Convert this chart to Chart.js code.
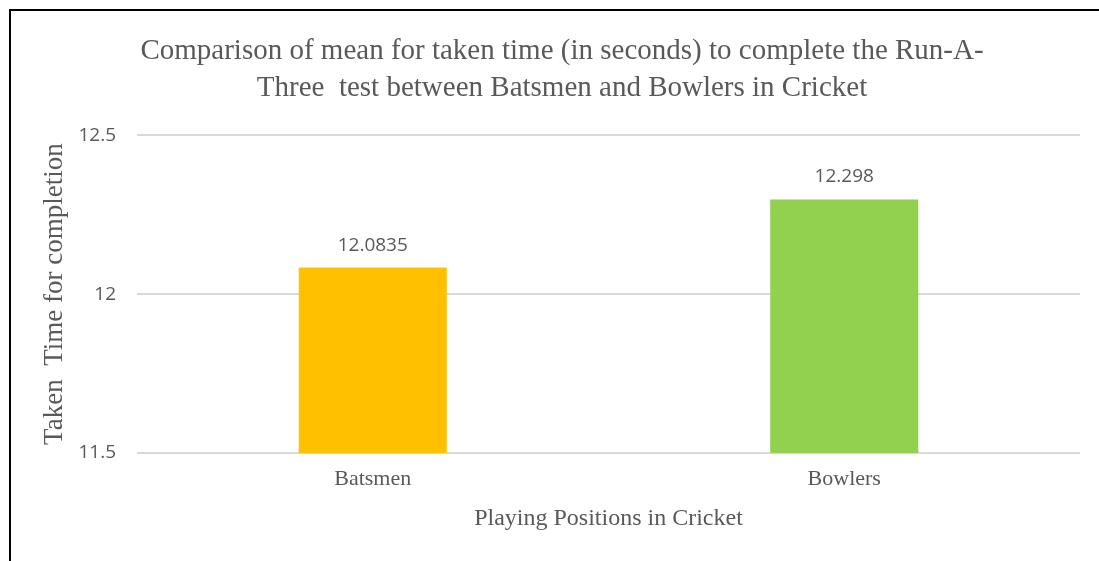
<!DOCTYPE html>
<html>
<head>
<meta charset="utf-8">
<script src="https://cdn.jsdelivr.net/npm/chart.js@4.4.1/dist/chart.umd.min.js"></script>
<style>
  html, body { margin: 0; padding: 0; background: #ffffff; }
  #wrap { position: absolute; left: 0; top: 0; width: 1099px; height: 561px; }
  #frame { position: absolute; left: 9px; top: 9px; right: 0; bottom: 0;
           border-left: 2px solid #000; border-top: 2px solid #000; pointer-events: none; }
  canvas { position: absolute; left: 0; top: 0; }
</style>
</head>
<body>
<div id="wrap">
  <canvas id="c" width="1099" height="561"></canvas>
  <div id="frame"></div>
</div>
<script>
const titleLines = ["Comparison of mean for taken time (in seconds) to complete the Run-A-",
                    "Three  test between Batsmen and Bowlers in Cricket"];
const categories = ["Batsmen", "Bowlers"];
const meanTimes = [12.0835, 12.298];
const barColors = ["#FFC000", "#92D050"];
const yTicks = [11.5, 12, 12.5];
const yTitle = "Taken  Time for completion";
const xTitle = "Playing Positions in Cricket";

const textGray = "#595959";
const serif = "'Liberation Serif', 'Times New Roman', serif";
const sans = "'Open Sans', 'Liberation Sans', sans-serif";

const valueLabels = {
  id: "valueLabels",
  afterDatasetsDraw(chart) {
    const ctx = chart.ctx;
    ctx.save();
    ctx.font = "19px " + sans;
    ctx.fillStyle = textGray;
    ctx.textAlign = "center";
    ctx.textBaseline = "alphabetic";
    chart.getDatasetMeta(0).data.forEach((bar, i) => {
      ctx.fillText(String(meanTimes[i]), bar.x, bar.y - 17);
    });
    ctx.restore();
  }
};

new Chart(document.getElementById("c"), {
  type: "bar",
  data: {
    labels: categories,
    datasets: [{
      data: meanTimes,
      backgroundColor: barColors,
      borderWidth: 0,
      categoryPercentage: 1,
      barPercentage: 0.314
    }]
  },
  options: {
    responsive: false,
    animation: false,
    events: [],
    layout: { padding: { left: 44, right: 19, top: 10, bottom: 0 } },
    plugins: {
      legend: { display: false },
      tooltip: { enabled: false },
      title: {
        display: true,
        text: titleLines,
        color: textGray,
        font: { family: serif, size: 29, weight: "normal", lineHeight: 1.28 },
        padding: { top: 23, bottom: 28 }
      }
    },
    scales: {
      x: {
        grid: { display: false, drawTicks: false },
        border: { display: false },
        ticks: { color: textGray, font: { family: serif, size: 22 }, padding: 13 },
        title: { display: true, text: xTitle, color: textGray,
                 font: { family: serif, size: 24 }, padding: { top: 0, bottom: 28 } },
        afterFit(scale) { scale.height = 108; }
      },
      y: {
        min: 11.5, max: 12.5,
        afterBuildTicks(scale) { scale.ticks = yTicks.map(v => ({ value: v })); },
        grid: { color: "#d9d9d9", lineWidth: 2, drawTicks: false },
        border: { display: false },
        ticks: { color: textGray, font: { family: sans, size: 19 }, padding: 21,
                 callback: v => String(v) },
        title: { display: true, text: yTitle, color: textGray,
                 font: { family: serif, size: 27 }, padding: { top: -5, bottom: 0 } },
        afterFit(scale) { scale.width = 93; }
      }
    }
  },
  plugins: [valueLabels]
});
</script>
</body>
</html>
